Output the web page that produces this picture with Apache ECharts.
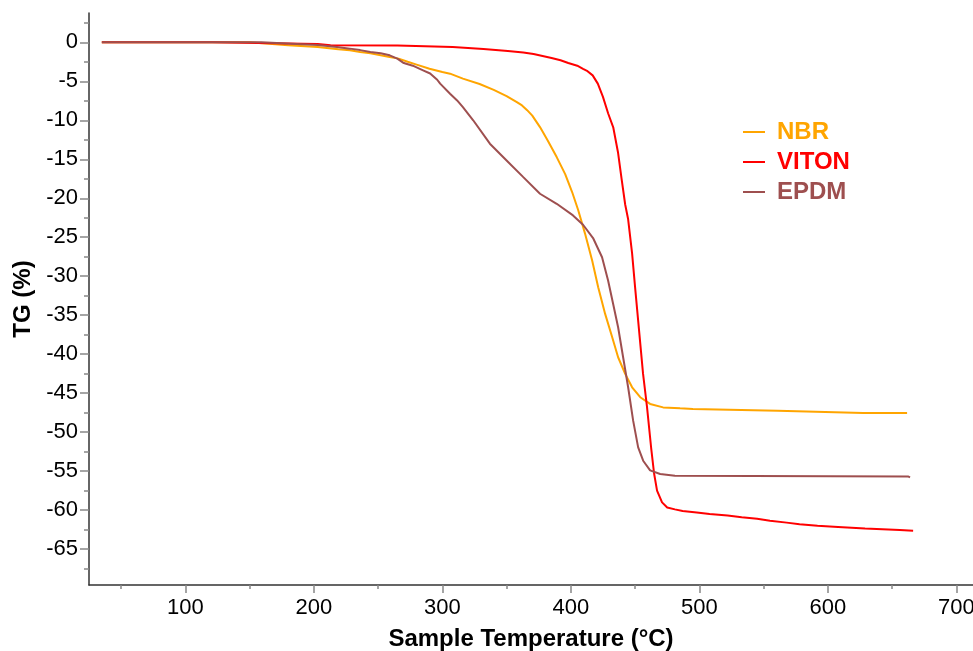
<!DOCTYPE html>
<html>
<head>
<meta charset="utf-8">
<script src="https://cdn.jsdelivr.net/npm/echarts@6/dist/echarts.min.js"></script>
<style>
html,body{margin:0;padding:0;background:#fff;}
#chart{width:973px;height:651px;}
</style>
</head>
<body>
<div id="chart"></div>
<script>
// Series names
const seriesNames = ['NBR', 'VITON', 'EPDM'];
// [temperature °C, TG %]
const nbr = [[35,0],[150,0],[180,-0.39],[203,-0.6],[219,-0.9],[228,-1.03],[236,-1.25],[244,-1.4],[252,-1.67],[259,-1.89],[266,-2.09],[273,-2.5],[280,-2.86],[290,-3.38],[300,-3.81],[306,-4.02],[316,-4.66],[329,-5.35],[340,-6.1],[350,-6.9],[358,-7.66],[362,-8.09],[366,-8.7],[370,-9.4],[376,-10.87],[382,-12.58],[389,-14.72],[395.6,-16.9],[401,-19.2],[405.7,-21.5],[411,-24.5],[416.6,-27.98],[421.3,-31.41],[426.7,-34.83],[432.2,-37.83],[436.8,-40.39],[442.3,-42.52],[447.7,-44.24],[454,-45.52],[461.7,-46.38],[471.8,-46.82],[485,-46.94],[495,-47.02],[561,-47.24],[627.5,-47.53],[661.7,-47.53]];
const viton = [[35,0],[121,0],[122,-0.22],[203,-0.22],[213,-0.39],[265,-0.4],[266,-0.6],[308,-0.6],[309,-0.81],[332,-0.85],[351,-1.1],[363,-1.3],[371,-1.5],[378,-1.75],[385,-2.0],[392,-2.3],[398,-2.65],[405,-3.0],[409.5,-3.4],[413,-3.7],[417,-4.24],[421,-5.3],[425,-7.0],[429,-9.1],[433,-10.9],[436.8,-14.2],[439.5,-17.5],[442.3,-20.8],[444.6,-22.7],[447.7,-27.1],[450,-31.4],[452.4,-35.7],[456.2,-42.5],[459.3,-46.8],[462.5,-52.0],[464.8,-55.3],[467.1,-57.5],[471,-59.0],[475,-59.65],[481,-59.9],[487,-60.1],[498,-60.3],[508,-60.5],[522,-60.7],[533,-60.9],[545,-61.1],[555,-61.35],[568,-61.6],[578,-61.8],[592,-62.0],[608,-62.15],[629,-62.35],[656,-62.55],[666.4,-62.64]];
const epdm = [[35,0],[159,0],[160,-0.17],[203,-0.35],[218,-0.6],[228,-0.81],[236,-1.0],[244,-1.25],[252,-1.4],[259,-1.67],[265,-2.09],[270,-2.66],[277,-3.0],[285,-3.59],[290.5,-4.0],[296,-4.8],[298.3,-5.3],[306,-6.59],[311.5,-7.45],[316,-8.31],[324,-10.0],[337,-13.0],[350,-15.15],[363,-17.29],[376,-19.42],[389,-20.71],[401.7,-22.2],[409.5,-23.4],[417.3,-25.1],[424.3,-27.56],[429,-30.55],[432.9,-33.54],[436.8,-36.54],[440.7,-40.39],[444.6,-44.24],[448.5,-48.52],[452.4,-51.95],[456.3,-53.66],[461.7,-54.9],[469.5,-55.37],[481,-55.58],[662.4,-55.67],[664,-55.8]];
// Axis ticks
const xMajorTicks = [100,200,300,400,500,600,700];
const xMinorTicks = [50,150,250,350,450,550,650];
const yMajorTicks = [-65,-60,-55,-50,-45,-40,-35,-30,-25,-20,-15,-10,-5,0];
const yMinorTicks = [-67.5,-62.5,-57.5,-52.5,-47.5,-42.5,-37.5,-32.5,-27.5,-22.5,-17.5,-12.5,-7.5,-2.5,2.5];

const colors = ['#FFA500', '#FF0000', '#9E4F4F'];
const FONT = 'Liberation Sans, Arial, sans-serif';
const X_MIN = 25, X_MAX = 713, Y_MIN = -69.6, Y_MAX = 3.76;

const chart = echarts.init(document.getElementById('chart'));
chart.setOption({
  animation: false,
  backgroundColor: '#fff',
  grid: { left: 89, right: 0, top: 13, bottom: 66, containLabel: false, outerBoundsMode: 'none' },
  legend: {
    orient: 'vertical', left: 738, top: 115, itemGap: 6,
    icon: 'rect', itemWidth: 22, itemHeight: 2,
    textStyle: { fontFamily: FONT, fontSize: 24, fontWeight: 'bold', padding: [0,0,0,7] },
    data: seriesNames.map((n, i) => ({ name: n, textStyle: { color: colors[i] } }))
  },
  xAxis: [{
    type: 'value', min: X_MIN, max: X_MAX, position: 'bottom',
    name: 'Sample Temperature (°C)', nameLocation: 'middle', nameGap: 42,
    nameTextStyle: { fontFamily: FONT, fontSize: 24, fontWeight: 'bold', color: '#000' },
    axisLine: { show: true, onZero: false, lineStyle: { color: '#333', width: 1.5 } },
    axisTick: { show: true, length: 8, customValues: xMajorTicks, lineStyle: { color: '#888', width: 1.5 } },
    axisLabel: { customValues: xMajorTicks, margin: 12, fontFamily: FONT, fontSize: 22, color: '#000' },
    splitLine: { show: false }
  }, {
    type: 'value', min: X_MIN, max: X_MAX, position: 'bottom',
    axisLine: { show: false, onZero: false },
    axisTick: { show: true, length: 4, customValues: xMinorTicks, lineStyle: { color: '#888', width: 1.5 } },
    axisLabel: { show: false }, splitLine: { show: false }
  }],
  yAxis: [{
    type: 'value', min: Y_MIN, max: Y_MAX, position: 'left',
    name: 'TG (%)', nameLocation: 'middle', nameGap: 51,
    nameTextStyle: { fontFamily: FONT, fontSize: 24, fontWeight: 'bold', color: '#000' },
    axisLine: { show: true, onZero: false, lineStyle: { color: '#333', width: 1.5 } },
    axisTick: { show: true, length: 9, customValues: yMajorTicks, lineStyle: { color: '#888', width: 1.5 } },
    axisLabel: { customValues: yMajorTicks, margin: 11, fontFamily: FONT, fontSize: 22, color: '#000' },
    splitLine: { show: false }
  }, {
    type: 'value', min: Y_MIN, max: Y_MAX, position: 'left',
    axisLine: { show: false, onZero: false },
    axisTick: { show: true, length: 5, customValues: yMinorTicks, lineStyle: { color: '#888', width: 1.5 } },
    axisLabel: { show: false }, splitLine: { show: false }
  }],
  series: [nbr, viton, epdm].map((d, i) => ({
    name: seriesNames[i], type: 'line', data: d, showSymbol: false, symbol: 'none',
    xAxisIndex: 0, yAxisIndex: 0,
    lineStyle: { color: colors[i], width: 2 }, itemStyle: { color: colors[i] }
  }))
});
</script>
</body>
</html>
